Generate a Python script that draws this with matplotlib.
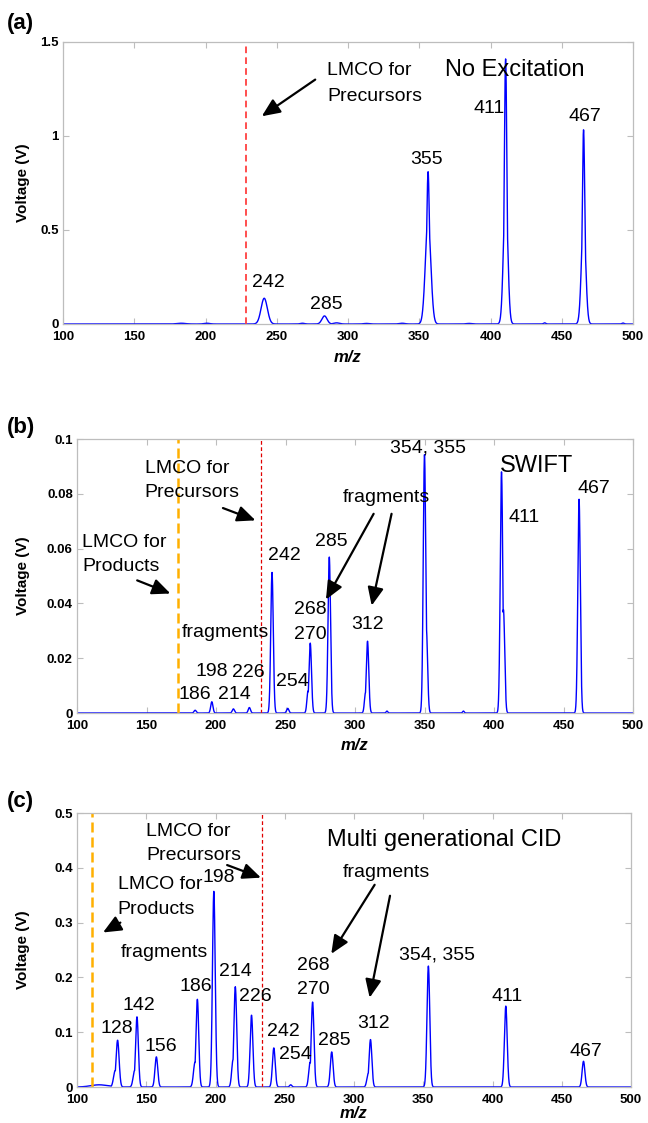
import numpy as np
import matplotlib
matplotlib.use('Agg')
import matplotlib.pyplot as plt
from matplotlib.ticker import FuncFormatter

plt.rcParams['font.family'] = ['Liberation Sans', 'DejaVu Sans']

# ---------------- data ----------------
mz_ticks = [100, 150, 200, 250, 300, 350, 400, 450, 500]
a_yticks = [0, 0.5, 1.0, 1.5]
b_yticks = [0, 0.02, 0.04, 0.06, 0.08, 0.1]
c_yticks = [0, 0.1, 0.2, 0.3, 0.4, 0.5]

# panel (a): No Excitation
a_centers = [183, 201, 241.2, 268, 283.5, 292, 313, 338, 356.2, 356.2, 385, 410.6, 410.6, 438, 465.3, 465.3, 493]
a_heights = [0.004, 0.004, 0.137, 0.004, 0.043, 0.006, 0.003, 0.004, 0.55, 0.81, 0.003, 0.7, 1.41, 0.006, 0.55, 1.033, 0.005]
a_sigmas = [3.0, 2.0, 2.2, 1.5, 1.8, 2.0, 2.0, 2.0, 1.9, 1.0, 2.0, 1.5, 0.9, 0.8, 1.5, 0.9, 0.8]

# panel (b): SWIFT
b_centers = [185, 197, 212.5, 224, 240.3, 251.6, 266.2, 267.8, 281.5, 307.6, 309, 323, 350, 351.3, 378, 405.4, 406.8, 461.2]
b_heights = [0.001, 0.0041, 0.0015, 0.002, 0.0513, 0.0017, 0.008, 0.0255, 0.0569, 0.0075, 0.0262, 0.0007, 0.0943, 0.031, 0.0007, 0.088, 0.0377, 0.078]
b_sigmas = [0.8, 0.8, 0.8, 0.8, 0.9, 0.8, 0.8, 0.9, 0.9, 0.8, 0.9, 0.6, 0.9, 0.9, 0.6, 0.9, 0.9, 0.9]

# panel (c): Multi generational CID
c_centers = [116, 127.6, 129.3, 141.6, 143.3, 157.3, 185.2, 186.9, 198.8, 212.7, 214.3, 226, 242.1, 254.3, 268.3, 270.1, 283.9, 310.3, 311.9, 353.7, 409.6, 465.7]
c_heights = [0.004, 0.03, 0.0854, 0.03, 0.128, 0.055, 0.045, 0.16, 0.357, 0.05, 0.183, 0.131, 0.0713, 0.004, 0.045, 0.155, 0.064, 0.025, 0.0866, 0.2207, 0.1476, 0.047]
c_sigmas = [6.0, 1.2, 1.1, 1.1, 1.0, 1.0, 1.1, 1.0, 1.0, 1.0, 1.0, 1.0, 1.0, 0.8, 1.0, 1.0, 1.0, 1.0, 1.0, 1.0, 1.0, 1.0]

a_lmco_precursor = 228.5
b_lmco_product, b_lmco_precursor = 172.5, 232.2
c_lmco_product, c_lmco_precursor = 111.0, 233.7

# ---------------- figure ----------------
W, H = 648, 1123
fig = plt.figure(figsize=(W / 100, H / 100), dpi=100)


def add_axes(l, r, t, b):
    return fig.add_axes([l / W, 1 - b / H, (r - l) / W, (b - t) / H])


def spectrum(centers, heights, sigmas):
    x = np.linspace(100, 500, 12001)
    comps = [h * np.exp(-0.5 * ((x - c) / s) ** 2) for c, h, s in zip(centers, heights, sigmas)]
    return x, np.max(comps, axis=0)


def style(ax, yticks):
    ax.set_xlim(100, 500)
    ax.set_ylim(yticks[0], yticks[-1])
    ax.set_xticks(mz_ticks)
    ax.set_yticks(yticks)
    ax.yaxis.set_major_formatter(FuncFormatter(lambda v, p: '%g' % round(v, 4)))
    for sp in ax.spines.values():
        sp.set_color('#BDBDBD')
        sp.set_linewidth(0.9)
    ax.tick_params(direction='in', length=4, color='#BDBDBD', top=True, right=True,
                   labelsize=9.5, width=0.8)
    ax.tick_params(axis='x', pad=5)
    ax.tick_params(axis='y', pad=3)
    for lab in ax.get_xticklabels() + ax.get_yticklabels():
        lab.set_fontweight('bold')


def arrow(ax, tail, tip):
    ax.annotate('', xy=tip, xytext=tail,
                arrowprops=dict(arrowstyle='-|>,head_length=0.5,head_width=0.22', color='k',
                                lw=1.6, mutation_scale=22, shrinkA=0, shrinkB=0))


def txt(ax, x, y, s, size=14, ha='center'):
    ax.text(x, y, s, fontsize=size, ha=ha, va='center', color='k')


def common_labels(ax, letter, top, bottom, left, right, letter_y, mz_off=33):
    fig.text(23 / W, 1 - (top + bottom) / 2 / H, 'Voltage (V)', rotation=90, ha='center', va='center',
             fontsize=11, fontweight='bold')
    fig.text((left + right) / 2 / W, 1 - (bottom + mz_off) / H, 'm/z', ha='center', va='center',
             fontsize=12, fontweight='bold', style='italic')
    fig.text(7 / W, 1 - letter_y / H, letter, ha='left', va='center', fontsize=16, fontweight='bold')


blue = '#0000FF'

# ---- panel (a)
axa = add_axes(63, 633, 42, 324)
x, y = spectrum(a_centers, a_heights, a_sigmas)
axa.plot(x, y, color=blue, lw=1.0)
axa.axvline(a_lmco_precursor, color='#FF3030', lw=1.2, ls=(0, (4, 2.5)))
style(axa, a_yticks)
common_labels(axa, '(a)', 42, 324, 63, 633, 23)
txt(axa, 285.2, 1.347, 'LMCO for', ha='left')
txt(axa, 285.2, 1.21, 'Precursors', ha='left')
txt(axa, 417, 1.35, 'No Excitation', size=17)
arrow(axa, (277, 1.30), (239.5, 1.105))
for s, xx, yy in [('242', 244.4, 0.22), ('285', 285, 0.105), ('355', 355, 0.874),
                  ('411', 398.7, 1.144), ('467', 466, 1.105)]:
    txt(axa, xx, yy, s)

# ---- panel (b)
axb = add_axes(77, 633, 439, 713)
x, y = spectrum(b_centers, b_heights, b_sigmas)
axb.plot(x, y, color=blue, lw=1.0)
axb.axvline(b_lmco_product, color='#FFB000', lw=1.8, ls=(0, (4, 2)))
axb.axvline(b_lmco_precursor, color='#E00000', lw=0.9, ls=(0, (3, 2)))
style(axb, b_yticks)
common_labels(axb, '(b)', 439, 713, 77, 633, 427)
txt(axb, 148.7, 0.0894, 'LMCO for', ha='left')
txt(axb, 148.7, 0.0805, 'Precursors', ha='left')
arrow(axb, (205, 0.0748), (228.4, 0.0703))
txt(axb, 103.9, 0.0623, 'LMCO for', ha='left')
txt(axb, 103.9, 0.0535, 'Products', ha='left')
arrow(axb, (143.3, 0.0484), (167.2, 0.0436))
txt(axb, 175.2, 0.0294, 'fragments', ha='left')
txt(axb, 322.4, 0.0785, 'fragments')
arrow(axb, (313.4, 0.0727), (279.1, 0.0414))
arrow(axb, (326.3, 0.0727), (312, 0.0392))
txt(axb, 403.9, 0.0903, 'SWIFT', size=17, ha='left')
for s, xx, yy in [('354, 355', 352.2, 0.0967), ('467', 472, 0.0821), ('411', 421.5, 0.0712),
                  ('285', 283, 0.0627), ('242', 249.3, 0.0574), ('198', 197, 0.0152),
                  ('226', 223.3, 0.0148), ('186', 184.5, 0.0067), ('214', 213.4, 0.0067),
                  ('254', 255.2, 0.0116), ('268', 268, 0.0377), ('270', 268, 0.0286),
                  ('312', 309, 0.0322)]:
    txt(axb, xx, yy, s)

# ---- panel (c)
axc = add_axes(77, 631, 813, 1087)
x, y = spectrum(c_centers, c_heights, c_sigmas)
axc.plot(x, y, color=blue, lw=1.0)
axc.axvline(c_lmco_product, color='#FFB000', lw=1.8, ls=(0, (4, 2)))
axc.axvline(c_lmco_precursor, color='#E00000', lw=0.9, ls=(0, (3, 2)))
style(axc, c_yticks)
common_labels(axc, '(c)', 813, 1087, 77, 631, 802, mz_off=27)
txt(axc, 280.6, 0.451, 'Multi generational CID', size=17, ha='left')
txt(axc, 323.3, 0.391, 'fragments')
arrow(axc, (314.9, 0.369), (283.6, 0.243))
arrow(axc, (326, 0.349), (311.3, 0.163))
txt(axc, 149.9, 0.466, 'LMCO for', ha='left')
txt(axc, 149.9, 0.422, 'Precursors', ha='left')
arrow(axc, (208.4, 0.405), (232.8, 0.382))
txt(axc, 129.3, 0.370, 'LMCO for', ha='left')
txt(axc, 129.3, 0.324, 'Products', ha='left')
arrow(axc, (131.3, 0.30), (118.8, 0.282))
txt(axc, 131.3, 0.246, 'fragments', ha='left')
for s, xx, yy in [('198', 202, 0.382), ('128', 128.4, 0.107), ('142', 144.8, 0.149),
                  ('156', 160.6, 0.0744), ('186', 185.7, 0.183), ('214', 214.3, 0.21),
                  ('226', 229, 0.165), ('242', 249.3, 0.102), ('254', 257.6, 0.06),
                  ('268', 270.7, 0.221), ('270', 270.7, 0.178), ('285', 286, 0.084),
                  ('312', 314.3, 0.116), ('354, 355', 359.7, 0.24), ('411', 410.4, 0.166),
                  ('467', 467.2, 0.064)]:
    txt(axc, xx, yy, s)

fig.savefig('out.png', dpi=100)
